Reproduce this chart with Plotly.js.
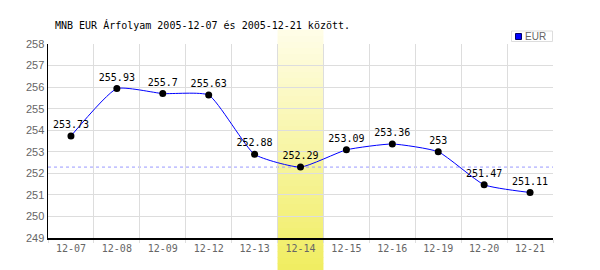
<!DOCTYPE html>
<html>
<head>
<meta charset="utf-8">
<script src="https://cdn.plot.ly/plotly-3.0.1.min.js"></script>
<style>html,body{margin:0;padding:0;background:#fff;}#chart{width:600px;height:270px;}</style>
</head>
<body>
<div id="chart"></div>
<script>
var dates = ["12-07","12-08","12-09","12-12","12-13","12-14","12-15","12-16","12-19","12-20","12-21"];
var rates = [253.73,255.93,255.7,255.63,252.88,252.29,253.09,253.36,253,251.47,251.11];
var labels = ["253.73","255.93","255.7","255.63","252.88","252.29","253.09","253.36","253","251.47","251.11"];
var highlightDate = "12-14";
var refRate = 252.29;
var titleText = "MNB EUR Árfolyam 2005-12-07 és 2005-12-21 között.";
var seriesName = "EUR";

var L = 48, R = 553, T = 44, B = 238;
function px(x){ return (x - L) / (R - L); }
function py(y){ return (B - y) / (B - T); }

var hi = dates.indexOf(highlightDate);
var shapes = [];
var nStrips = 40;
var y0 = py(270), y1 = py(30);
var cTop = [255,253,232], cBot = [240,237,96];
for (var i = 0; i < nStrips; i++) {
  var t = (i + 0.5) / nStrips;
  var c = cBot.map(function(v, k){ return Math.round(v + (cTop[k] - v) * t); });
  shapes.push({type:"rect", xref:"x", yref:"paper", x0:hi-0.5, x1:hi+0.5,
    y0: y0 + (y1-y0)*i/nStrips, y1: y0 + (y1-y0)*(i+1)/nStrips + 0.002,
    fillcolor:"rgb("+c.join(",")+")", line:{width:0}, layer:"below"});
}
shapes.push({type:"line", xref:"paper", yref:"y", x0:0, x1:1, y0:refRate, y1:refRate,
  line:{color:"#9a9aff", width:1, dash:"3px,3px"}, layer:"below"});
// legend box
shapes.push({type:"rect", xref:"paper", yref:"paper", x0:px(511.5), x1:px(552.5), y0:py(41.5), y1:py(21.5+9.5),
  fillcolor:"#fff", line:{color:"#dddddd", width:1}, layer:"above"});
shapes.push({type:"rect", xref:"paper", yref:"paper", x0:px(515.5), x1:px(521.5), y0:py(39.5), y1:py(33.5),
  fillcolor:"#0000ff", line:{color:"#000066", width:1}, layer:"above"});

var trace = {
  x: dates, y: rates, text: labels, type:"scatter", mode:"lines+markers+text",
  line:{color:"#0000ff", width:1, shape:"spline", smoothing:0.5},
  marker:{color:"#000", size:7},
  textposition:"top center",
  textfont:{family:"DejaVu Sans Mono", size:10, color:"#000"},
  cliponaxis:false, showlegend:false, hoverinfo:"none"
};

var layout = {
  width:600, height:270,
  margin:{l:L, r:600-R, t:T, b:270-B},
  paper_bgcolor:"#fff", plot_bgcolor:"rgba(0,0,0,0)",
  showlegend:false,
  xaxis:{type:"category", range:[-0.5, dates.length-0.5], tickson:"boundaries",
    showgrid:true, gridcolor:"#dddddd", gridwidth:1, ticks:"outside", ticklen:3,
    tickcolor:"#dddddd", showline:true,
    linecolor:"#000", linewidth:1.5, zeroline:false,
    tickfont:{family:"DejaVu Sans Mono", size:10, color:"#666"}},
  yaxis:{range:[249,258], dtick:1, showgrid:true, gridcolor:"#dddddd", gridwidth:1,
    ticks:"", showline:true, linecolor:"#000", linewidth:1.5, zeroline:false,
    tickfont:{family:"Liberation Sans", size:11, color:"#666"}},
  shapes: shapes,
  annotations:[
    {text:titleText, xref:"paper", yref:"paper", x:px(53), y:py(25),
     xanchor:"left", yanchor:"middle", showarrow:false,
     font:{family:"DejaVu Sans Mono", size:10, color:"#000"}},
    {text:seriesName, xref:"paper", yref:"paper",
     x:px(523), y:py(36.5), xanchor:"left", yanchor:"middle", showarrow:false,
     font:{family:"Liberation Sans", size:10, color:"#666"}}
  ]
};
Plotly.newPlot("chart", [trace], layout, {displayModeBar:false, staticPlot:true});
</script>
</body>
</html>
